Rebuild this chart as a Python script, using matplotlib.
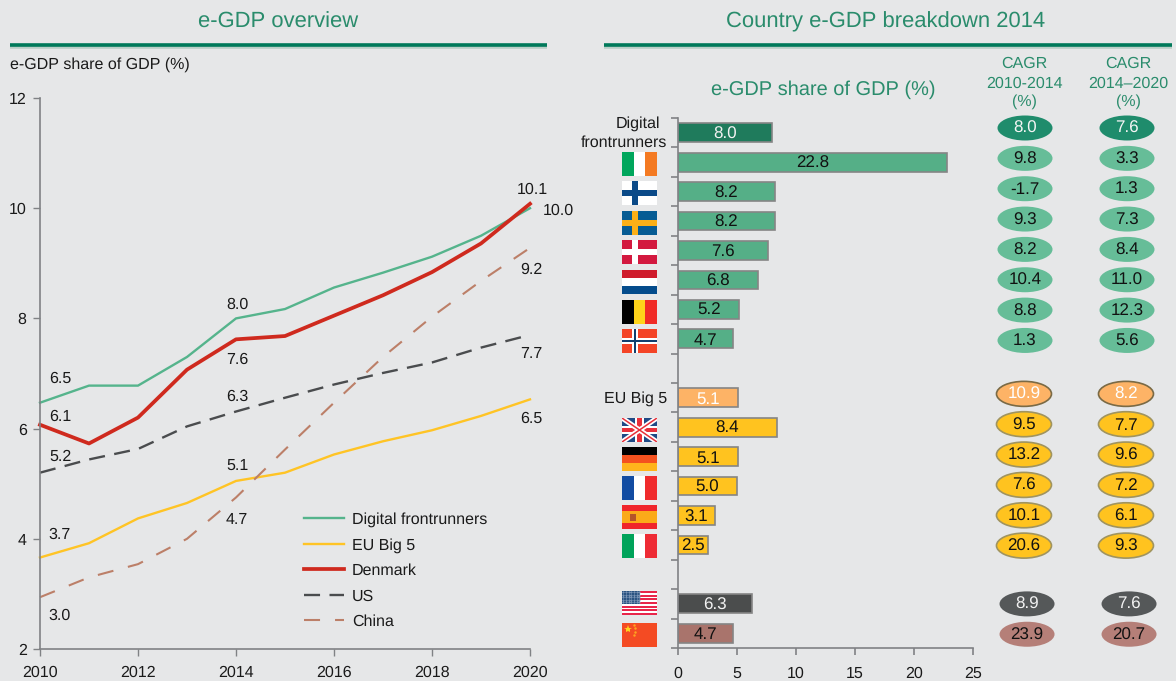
import numpy as np
import matplotlib
matplotlib.use("Agg")
import matplotlib.pyplot as plt
from matplotlib.patches import Ellipse, Rectangle

# ---------- data ----------
years = list(range(2010, 2021))
frontrunners = [6.47, 6.78, 6.78, 7.30, 8.00, 8.17, 8.56, 8.83, 9.12, 9.50, 10.00]
eu_big5 = [3.66, 3.92, 4.37, 4.65, 5.05, 5.20, 5.53, 5.77, 5.97, 6.23, 6.53]
denmark = [6.07, 5.73, 6.20, 7.07, 7.62, 7.68, 8.05, 8.42, 8.84, 9.36, 10.08]
us = [5.20, 5.44, 5.63, 6.04, 6.31, 6.56, 6.80, 7.01, 7.20, 7.47, 7.70]
china = [2.94, 3.30, 3.54, 4.00, 4.75, 5.62, 6.47, 7.30, 8.03, 8.68, 9.28]

bar_rows = ["Digital frontrunners", "Ireland", "Finland", "Sweden", "Denmark", "Netherlands",
            "Belgium", "Norway", "", "EU Big 5", "UK", "Germany", "France", "Spain", "Italy",
            "", "US", "China"]
bar_values = [8.0, 22.8, 8.2, 8.2, 7.6, 6.8, 5.2, 4.7, None,
              5.1, 8.4, 5.1, 5.0, 3.1, 2.5, None, 6.3, 4.7]
cagr_front_1 = ["8.0", "9.8", "-1.7", "9.3", "8.2", "10.4", "8.8", "1.3"]
cagr_front_2 = ["7.6", "3.3", "1.3", "7.3", "8.4", "11.0", "12.3", "5.6"]
cagr_eu_1 = ["10.9", "9.5", "13.2", "7.6", "10.1", "20.6"]
cagr_eu_2 = ["8.2", "7.7", "9.6", "7.2", "6.1", "9.3"]
cagr_other_1 = ["8.9", "23.9"]
cagr_other_2 = ["7.6", "20.7"]

# ---------- style ----------
W, H = 1176, 681
BG = "#E6E7E8"
GREEN_T = "#2A8C6C"
RULE = "#00795A"
AXC = "#808285"
TXT = "#1A1A1A"
FS = 11.7
plt.rcParams["font.family"] = ["Liberation Sans", "DejaVu Sans"]
plt.rcParams["text.hinting"] = "no_hinting"
plt.rcParams["text.hinting_factor"] = 1


def rect_px(x0, y0, x1, y1):
    return [x0 / W, 1 - y1 / H, (x1 - x0) / W, (y1 - y0) / H]


fig = plt.figure(figsize=(W / 100, H / 100), dpi=100, facecolor=BG)

page = fig.add_axes([0, 0, 1, 1], zorder=0)
page.set_xlim(0, W)
page.set_ylim(H, 0)
page.axis("off")

for x0, x1, title, cx, tfs in [(10, 547, "e-GDP overview", 278, 16.2),
                               (604, 1172, "Country e-GDP breakdown 2014", 886, 16.0)]:
    page.plot([x0, x1], [46.5, 46.5], color="#B9CFC6", lw=2.6, solid_capstyle="butt")
    page.plot([x0, x1], [45, 45], color=RULE, lw=2.6, solid_capstyle="butt")
    page.text(cx, 22, title, color=GREEN_T, fontsize=tfs, ha="center", va="center")

page.text(10, 64.5, "e-GDP share of GDP (%)", fontsize=11.8, color=TXT, va="center")
page.text(823, 89.5, "e-GDP share of GDP (%)", fontsize=14.3, color=GREEN_T, ha="center", va="center")
for cx, lines in [(1024, ["CAGR", "2010-2014", "(%)"]), (1128, ["CAGR", "2014\u20132020", "(%)"])]:
    for yy, s in zip([63.5, 83.5, 102], lines):
        page.text(cx, yy, s, fontsize=11.6, color=GREEN_T, ha="center", va="center")
page.text(638, 123.5, "Digital", fontsize=FS, color=TXT, ha="center", va="center")
page.text(667, 143, "frontrunners", fontsize=FS, color=TXT, ha="right", va="center")
page.text(667, 399, "EU Big 5", fontsize=FS, color=TXT, ha="right", va="center")

# ---------- line chart ----------
ax = fig.add_axes(rect_px(40, 98, 530, 649), facecolor="none", zorder=2)
ax.plot(years, frontrunners, color="#55B48C", lw=1.7, label="Digital frontrunners")
ax.plot(years, eu_big5, color="#FFC425", lw=1.7, label="EU Big 5")
ax.plot(years, denmark, color="#CF2A1E", lw=2.7, label="Denmark")
ax.plot(years, us, color="#4A4C4E", lw=1.7, dashes=(6.8, 4), label="US")
ax.plot(years, china, color="#BC7F68", lw=1.5, dashes=(7.7, 7.2), label="China")
ax.set_xlim(2010, 2020)
ax.set_ylim(2, 12)
ax.set_xticks(range(2010, 2021, 2))
ax.set_yticks(range(2, 13, 2))
ax.tick_params(axis="both", labelsize=FS, colors=TXT, color=AXC, length=5, width=1)
ax.tick_params(axis="x", pad=7)
ax.tick_params(axis="y", pad=4.6)
for s in ("top", "right"):
    ax.spines[s].set_visible(False)
for s in ("left", "bottom"):
    ax.spines[s].set_color(AXC)
    ax.spines[s].set_linewidth(1.2)
for lab in ax.get_lines():
    lab.set_clip_on(False)
ax.legend(loc="lower left", bbox_to_anchor=(0.5388, 0.036), frameon=False, fontsize=FS,
          handlelength=2.46, handletextpad=0.49, labelspacing=0.65, borderpad=0, borderaxespad=0,
          labelcolor=TXT)

line_labels = [("6.5", 60, 379), ("6.1", 60, 417), ("5.2", 60, 457), ("3.7", 60, 535), ("3.0", 60, 616),
               ("8.0", 237, 305), ("7.6", 237, 360), ("6.3", 237, 397), ("5.1", 237, 466), ("4.7", 237, 520),
               ("10.1", 532, 190), ("10.0", 558, 211), ("9.2", 531, 270), ("7.7", 531, 354), ("6.5", 531, 419)]
top = fig.add_axes([0, 0, 1, 1], zorder=5, facecolor="none")
top.set_xlim(0, W)
top.set_ylim(H, 0)
top.axis("off")
for s, x, y in line_labels:
    top.text(x, y, s, fontsize=FS, color=TXT, ha="center", va="center")

# ---------- bar chart ----------
axb = fig.add_axes(rect_px(678, 118, 973, 648), facecolor="none", zorder=2)
row_colors = ["#1F7B5C"] + ["#55AF87"] * 7 + [BG, "#FDB366"] + ["#FFC31F"] * 5 + [BG, "#4B4D4D", "#A9746C"]
text_colors = ["#F2F2F2"] + ["#111111"] * 7 + ["k", "#FFFFFF"] + ["#111111"] * 5 + ["k", "#F2F2F2", "#111111"]
for i, (v, c, tc) in enumerate(zip(bar_values, row_colors, text_colors)):
    if v is None:
        continue
    axb.barh(i + 0.5, v, height=0.64, color=c, edgecolor="#858585", linewidth=1.2)
    axb.text(v / 2, i + 0.55, f"{v:.1f}", color=tc, fontsize=12.2, ha="center", va="center")
axb.set_xlim(0, 25)
axb.set_ylim(18, 0)
axb.set_xticks(range(0, 26, 5))
axb.set_yticks(range(0, 19))
axb.set_yticklabels([])
axb.tick_params(axis="both", labelsize=FS, colors=TXT, color=AXC, length=5, width=1.2)
axb.tick_params(axis="x", pad=8)
for s in ("top", "right"):
    axb.spines[s].set_visible(False)
for s in ("left", "bottom"):
    axb.spines[s].set_color(AXC)
    axb.spines[s].set_linewidth(1.2)

# ---------- CAGR ellipses ----------
axc = fig.add_axes(rect_px(974, 110, 1176, 650), facecolor="none", zorder=3)
axc.set_xlim(-0.5, (1176 - 1025) / 102)
ROW = 30.35
axc.set_ylim((650 - 128) / ROW, (110 - 128) / ROW)
axc.axis("off")
groups = [
    (0.0, 0.0, cagr_front_1, cagr_front_2, ["#1F8C6C"] + ["#66BD98"] * 7, ["none"] * 8,
     ["#F5F5F5"] + ["#111111"] * 7),
    (8.76, -0.01, cagr_eu_1, cagr_eu_2, ["#FDB366"] + ["#FFC31F"] * 5, ["#7A6A45"] + ["#A0945F"] * 5,
     ["#FFFFFF"] + ["#111111"] * 5),
    (15.68, 0.02, cagr_other_1, cagr_other_2, ["#555859", "#B57F78"], ["none"] * 2, ["#F2F2F2", "#111111"]),
]
for off, dx, c1, c2, fills, edges, tcs in groups:
    for col, vals in enumerate((c1, c2)):
        for i, s in enumerate(vals):
            axc.add_patch(Ellipse((col + dx, off + i), 55 / 102, 25 / ROW, facecolor=fills[i],
                                  edgecolor=edges[i], linewidth=1.2, clip_on=False))
            axc.text(col + dx, off + i + 0.03, s, color=tcs[i], fontsize=12.2, ha="center", va="center")


# ---------- flags ----------
def flag(y0, painter):
    a = fig.add_axes(rect_px(622, y0, 657, y0 + 24), zorder=4)
    a.set_xlim(0, 1)
    a.set_ylim(1, 0)
    a.axis("off")
    a.set_facecolor("none")
    painter(a)


def box(a, x0, y0, x1, y1, c):
    a.add_patch(Rectangle((x0, y0), x1 - x0, y1 - y0, facecolor=c, edgecolor="none"))


def vertical(cs):
    def p(a):
        for i, c in enumerate(cs):
            box(a, i / 3, 0, (i + 1) / 3, 1, c)
    return p


def horizontal(cs):
    def p(a):
        for i, c in enumerate(cs):
            box(a, 0, i / 3, 1, (i + 1) / 3, c)
    return p


def nordic(bg, cross, inner=None):
    def p(a):
        box(a, 0, 0, 1, 1, bg)
        if inner:
            box(a, 0.28, 0, 0.46, 1, inner)
            box(a, 0, 0.36, 1, 0.64, inner)
            box(a, 0.33, 0, 0.41, 1, cross)
            box(a, 0, 0.44, 1, 0.56, cross)
        else:
            box(a, 0.29, 0, 0.45, 1, cross)
            box(a, 0, 0.38, 1, 0.62, cross)
    return p


def uk(a):
    box(a, 0, 0, 1, 1, "#1F4A86")
    a.plot([0, 1], [0, 1], color="white", lw=3.6)
    a.plot([0, 1], [1, 0], color="white", lw=3.6)
    a.plot([0, 1], [0, 1], color="#E8303A", lw=1.1)
    a.plot([0, 1], [1, 0], color="#E8303A", lw=1.1)
    box(a, 0.38, 0, 0.62, 1, "white")
    box(a, 0, 0.33, 1, 0.67, "white")
    box(a, 0.43, 0, 0.57, 1, "#E8303A")
    box(a, 0, 0.40, 1, 0.60, "#E8303A")


def spain(a):
    box(a, 0, 0, 1, 1, "#F0252B")
    box(a, 0, 0.25, 1, 0.75, "#FBAA19")
    box(a, 0.24, 0.36, 0.40, 0.66, "#B5532A")


def usa(a):
    for i in range(13):
        box(a, 0, i / 13, 1, (i + 1) / 13, "#E8264A" if i % 2 == 0 else "white")
    box(a, 0, 0, 0.5, 0.54, "#1F4A7A")
    for yy in np.arange(0.06, 0.54, 0.1):
        a.plot(np.arange(0.04, 0.5, 0.075), [yy] * 7, ls="none", marker=".", ms=1.0, color="#8FA6C4")


def cn(a):
    box(a, 0, 0, 1, 1, "#F44B23")
    a.plot([0.16], [0.27], marker="*", ms=6, color="#FFD21F", mew=0)
    a.plot([0.33, 0.38, 0.38, 0.33], [0.1, 0.22, 0.36, 0.48], ls="none", marker=".", ms=1.5, color="#FFA51F")


flags = [
    (152, vertical(["#00A65C", "#FFFFFF", "#F47A22"])),
    (181, nordic("#FFFFFF", "#0B4A88")),
    (211, nordic("#065C94", "#FBB017")),
    (240, nordic("#D3193F", "#FFFFFF")),
    (270, horizontal(["#CF1B2B", "#FFFFFF", "#044C8C"])),
    (300, vertical(["#000000", "#FFD31A", "#F02B26"])),
    (329, nordic("#F44426", "#123F6E", "#FFFFFF")),
    (418, uk),
    (447, horizontal(["#000000", "#F4511F", "#FFB41C"])),
    (476, vertical(["#124CA2", "#FFFFFF", "#F02B2D"])),
    (505, spain),
    (534, vertical(["#00A35A", "#FFFFFF", "#EE2B35"])),
    (591, usa),
    (623, cn),
]
for y0, painter in flags:
    flag(y0, painter)

fig.savefig("out.png", dpi=100, facecolor=BG)
